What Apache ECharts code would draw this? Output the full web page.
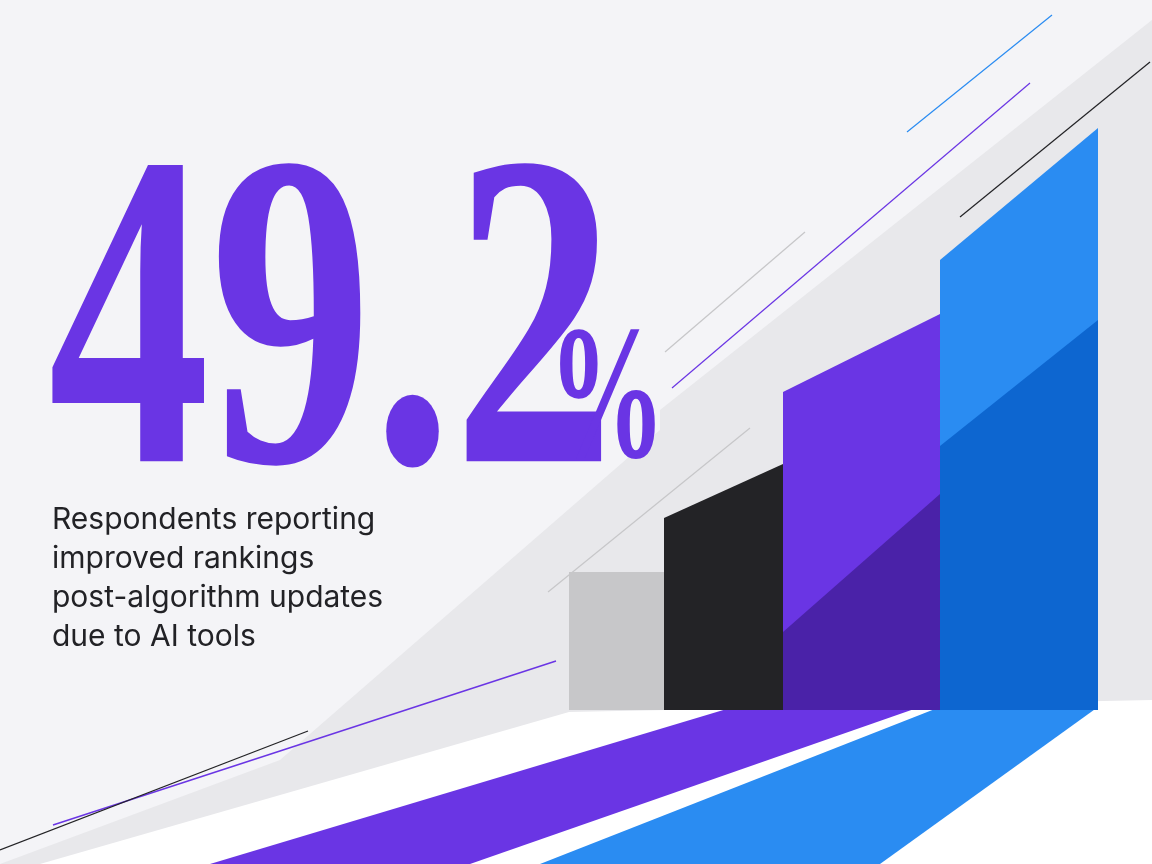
<!DOCTYPE html>
<html><head><meta charset="utf-8">
<script src="https://cdn.jsdelivr.net/npm/echarts@6/dist/echarts.min.js"></script>
<style>html,body{margin:0;background:#f4f4f7}#c{width:1152px;height:864px}</style>
</head><body><div id="c"></div>
<script>
// Bars: [x start, x end] spans, top heights (left/right), darker shade heights (left/right)
const barNames = ['Gray', 'Black', 'Purple', 'Blue'];
const barStart = [0, 95, 214, 371];
const barEnd = [95, 214, 371, 529];
const topLeft = [23, 32, 53, 75];
const topRight = [23, 41, 66, 97];
const shadeLeft = [0, 0, 13, 44];
const shadeRight = [0, 0, 36, 65];
const barColors = ['#c7c7c9', '#232326', '#6a35e4', '#2a8cf2'];
const shadeColors = ['#c7c7c9', '#232326', '#4a22a8', '#0d66d0'];
const headline = '49.2';
const subtitle = ['Respondents reporting', 'improved rankings', 'post-algorithm updates', 'due to AI tools'];

const data = barNames.map((n, i) => [barStart[i], barEnd[i], topLeft[i], topRight[i], shadeLeft[i], shadeRight[i]]);
const chart = echarts.init(document.getElementById('c'));
const line = (x1, y1, x2, y2, c, w) => ({type: 'line', shape: {x1, y1, x2, y2}, style: {stroke: c, lineWidth: w || 1.2}, z: -5});
const poly = (pts, c) => ({type: 'polygon', shape: {points: pts}, style: {fill: c}, z: -10});
chart.setOption({
  backgroundColor: '#f4f4f7',
  grid: {left: 569, right: 54, top: 110, bottom: 154},
  xAxis: {type: 'value', min: 0, max: 529, show: false},
  yAxis: {type: 'value', min: 0, max: 100, show: false},
  series: [{
    type: 'custom', data,
    renderItem: (params, api) => {
      const x0 = api.value(0), x1 = api.value(1);
      const p = (x, y) => api.coord([x, y]);
      const c = barColors[params.dataIndex], s = shadeColors[params.dataIndex];
      const ch = [{type: 'polygon', shape: {points: [p(x0, 0), p(x0, api.value(2)), p(x1, api.value(3)), p(x1, 0)]}, style: {fill: c}}];
      if (api.value(5) > 0) ch.push({type: 'polygon', shape: {points: [p(x0, 0), p(x0, api.value(4)), p(x1, api.value(5)), p(x1, 0)]}, style: {fill: s}});
      return {type: 'group', children: ch};
    }
  }],
  graphic: [
    poly([[0, 864], [280, 760], [660, 430], [660, 410], [1152, 20], [1152, 864]], '#e8e8eb'),
    poly([[40, 864], [569, 712], [1152, 700], [1152, 864]], '#ffffff'),
    poly([[210, 864], [470, 864], [940, 700], [790, 690]], '#6a35e4'),
    poly([[540, 864], [880, 864], [1098, 707], [940, 707]], '#2a8cf2'),
    line(907, 132, 1052, 15, '#2a8cf2'),
    line(672, 388, 1030, 83, '#6a35e4'),
    line(960, 217, 1150, 62, '#232326'),
    line(665, 352, 805, 232, '#c7c7c9'),
    line(548, 592, 750, 428, '#c7c7c9'),
    line(53, 825, 556, 661, '#6a35e4', 1.5),
    line(0, 850, 308, 731, '#232326'),
    {type: 'text', x: 48, y: 120, scaleX: 0.72, style: {text: headline, font: 'bold 450px "Liberation Sans Narrow"', fill: '#6a35e4'}},
    {type: 'text', x: 548, y: 312, scaleX: 0.62, style: {text: '%', font: 'bold 190px "Liberation Sans Narrow"', fill: '#6a35e4'}},
    {type: 'text', x: 52, y: 500, style: {text: subtitle.join('\n'), font: '30px Inter', lineHeight: 39, fill: '#222226'}}
  ]
});
</script></body></html>
